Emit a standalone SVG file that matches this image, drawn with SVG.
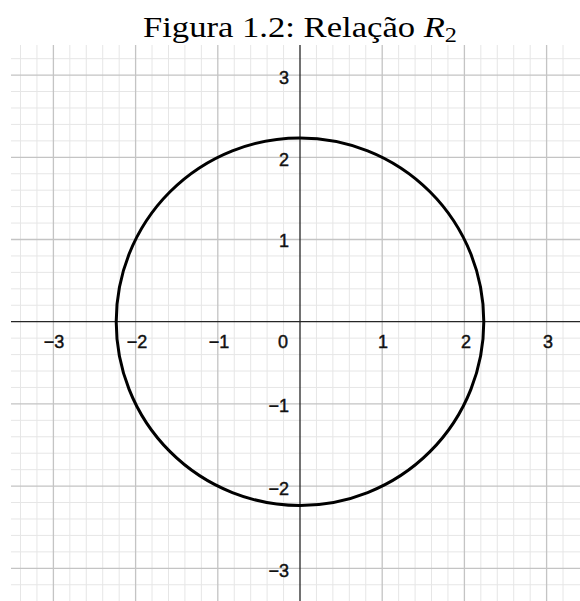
<svg xmlns="http://www.w3.org/2000/svg" width="580" height="601" viewBox="0 0 580 601">
  <style>
    .minor { stroke: #e6e6e6; stroke-width: 1; fill: none; }
    .major { stroke: #c4c4c4; stroke-width: 1.3; fill: none; }
    .axis { stroke: #262626; stroke-width: 1.3; fill: none; }
    .curve { stroke: #000; stroke-width: 3; fill: none; }
    .lbl { font-family: "Liberation Sans", Arial, sans-serif; font-size: 18px; fill: #111; stroke: #111; stroke-width: 0.45; }
    .title { font-family: "Liberation Serif", "Times New Roman", serif; font-size: 30px; fill: #000; }
  </style>
  <rect x="0" y="0" width="580" height="601" fill="#fff"/>
  <text class="title" x="143" y="37" textLength="314" lengthAdjust="spacingAndGlyphs">Figura 1.2: Relação <tspan font-style="italic">R</tspan><tspan font-size="21" dy="5">2</tspan></text>
  <g id="grid">
    <path class="minor" d="M20.52 45V601M36.96 45V601M69.84 45V601M86.28 45V601M102.72 45V601M119.16 45V601M152.04 45V601M168.48 45V601M184.92 45V601M201.36 45V601M234.24 45V601M250.68 45V601M267.12 45V601M283.56 45V601M316.44 45V601M332.88 45V601M349.32 45V601M365.76 45V601M398.64 45V601M415.08 45V601M431.52 45V601M447.96 45V601M480.84 45V601M497.28 45V601M513.72 45V601M530.16 45V601M563.04 45V601"/>
    <path class="minor" d="M11 58.66H580M11 91.54H580M11 107.98H580M11 124.42H580M11 140.86H580M11 173.74H580M11 190.18H580M11 206.62H580M11 223.06H580M11 255.94H580M11 272.38H580M11 288.82H580M11 305.26H580M11 338.14H580M11 354.58H580M11 371.02H580M11 387.46H580M11 420.34H580M11 436.78H580M11 453.22H580M11 469.66H580M11 502.54H580M11 518.98H580M11 535.42H580M11 551.86H580M11 584.74H580"/>
    <path class="major" d="M53.4 45V601M135.6 45V601M217.8 45V601M382.2 45V601M464.4 45V601M546.6 45V601"/>
    <path class="major" d="M11 75.1H580M11 157.3H580M11 239.5H580M11 403.9H580M11 486.1H580M11 568.3H580"/>
  </g>
  <g id="axes">
    <path class="axis" d="M11 321.7H580"/>
    <path class="axis" d="M300 45V601"/>
  </g>
  <g id="x-labels" class="lbl" text-anchor="middle">
    <text x="54" y="347.5">−3</text>
    <text x="137" y="347.5">−2</text>
    <text x="219" y="347.5">−1</text>
    <text x="283" y="347.5">0</text>
    <text x="383" y="347.5">1</text>
    <text x="466" y="347.5">2</text>
    <text x="548" y="347.5">3</text>
  </g>
  <g id="y-labels" class="lbl" text-anchor="end">
    <text x="289" y="84">3</text>
    <text x="289" y="166">2</text>
    <text x="289" y="247">1</text>
    <text x="289" y="412">−1</text>
    <text x="289" y="495">−2</text>
    <text x="289" y="577">−3</text>
  </g>
  <g id="circle">
    <circle class="curve" cx="300" cy="321.7" r="183.8"/>
  </g>
</svg>
